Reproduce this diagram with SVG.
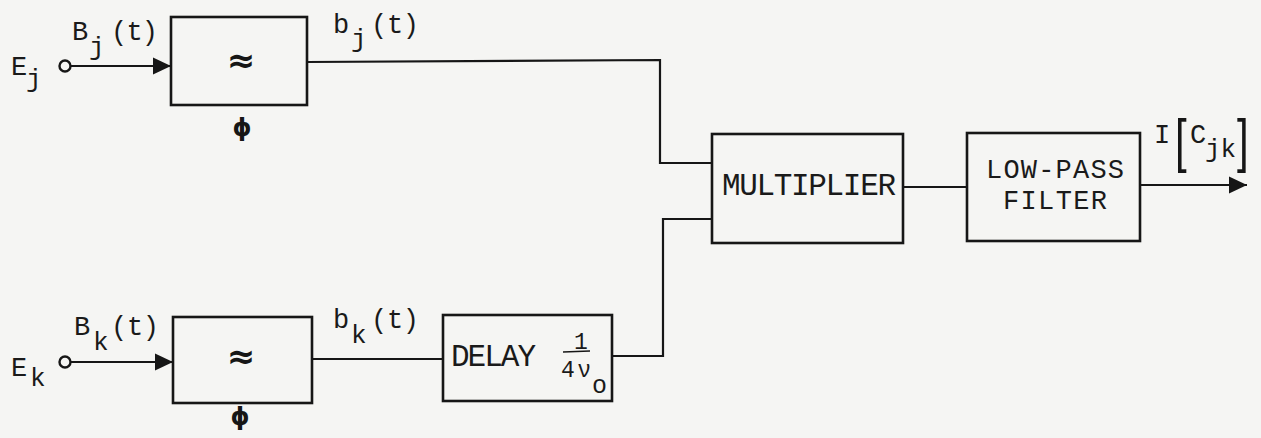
<svg xmlns="http://www.w3.org/2000/svg" width="1261" height="438" viewBox="0 0 1261 438">
<style>
.box{fill:none;stroke:#161616;stroke-width:2.6}
.wire{fill:none;stroke:#161616;stroke-width:2.2}
.t{font-family:"Liberation Mono",monospace;fill:#1a1a1a}
.lab{font-size:27px}
.sub{font-size:26px}
.blk{font-size:31px}
.blk2{font-size:27px}
.sym{font-family:"DejaVu Sans",sans-serif;font-weight:bold;fill:#161616;text-anchor:middle}
.br{font-family:"Liberation Sans",sans-serif;font-size:60px;fill:#161616}
</style>
<defs>
<marker id="arr" markerWidth="20" markerHeight="20" refX="18" refY="10" orient="auto" markerUnits="userSpaceOnUse">
<path d="M0,1.5 L18,10 L0,18.5 Z" fill="#161616"/>
</marker>
</defs>
<rect width="1261" height="438" fill="#f5f5f3"/>

<g id="input-j">
<circle cx="65" cy="66" r="5.5" fill="none" stroke="#161616" stroke-width="2.4"/>
<text class="t lab" x="11" y="75">E</text>
<text class="t sub" x="26" y="87">j</text>
<text class="t lab" x="72" y="40">B</text>
<text class="t sub" x="89" y="55">j</text>
<text class="t lab" x="111" y="40" textLength="47">(t)</text>
</g>

<g id="input-k">
<circle cx="65" cy="362" r="5.5" fill="none" stroke="#161616" stroke-width="2.4"/>
<text class="t lab" x="11" y="376">E</text>
<text class="t sub" x="30" y="386">k</text>
<text class="t lab" x="74" y="335">B</text>
<text class="t sub" x="93" y="350">k</text>
<text class="t lab" x="111" y="335" textLength="48">(t)</text>
</g>

<g id="filter-j">
<rect class="box" x="171" y="17" width="136" height="88"/>
<text class="sym" x="241" y="72" font-size="34">≈</text>
<text class="sym" x="242" y="136" font-size="24">ϕ</text>
</g>

<g id="filter-k">
<rect class="box" x="173" y="317" width="139" height="86"/>
<text class="sym" x="241" y="368" font-size="34">≈</text>
<text class="sym" x="240" y="425" font-size="24">ϕ</text>
</g>

<g id="label-bj">
<text class="t lab" x="333" y="33">b</text>
<text class="t sub" x="351" y="47">j</text>
<text class="t lab" x="371" y="33" textLength="48">(t)</text>
</g>

<g id="label-bk">
<text class="t lab" x="333" y="328">b</text>
<text class="t sub" x="351" y="343">k</text>
<text class="t lab" x="371" y="328" textLength="48">(t)</text>
</g>

<g id="delay">
<rect class="box" x="443" y="315" width="169" height="86"/>
<text class="t blk" x="451" y="366" textLength="85">DELAY</text>
<text class="t" x="581" y="349" font-size="23" text-anchor="middle">1</text>
<line x1="563" y1="352" x2="590" y2="351" stroke="#161616" stroke-width="1.6"/>
<text class="t" x="561" y="377" font-size="23" textLength="30">4ν</text>
<text class="t" x="592" y="393" font-size="25">o</text>
</g>

<g id="multiplier">
<rect class="box" x="712" y="134" width="191" height="109"/>
<text class="t blk" x="722" y="195" textLength="174">MULTIPLIER</text>
</g>

<g id="lowpass">
<rect class="box" x="967" y="133" width="173" height="108"/>
<text class="t blk2" x="986" y="178" textLength="138">LOW-PASS</text>
<text class="t blk2" x="1003" y="209" textLength="104">FILTER</text>
</g>

<g id="output-label">
<text class="t lab" x="1154" y="143">I</text>
<text class="br" transform="translate(1175,161) scale(0.7,1)" x="0" y="0">[</text>
<text class="t lab" x="1190" y="143">C</text>
<text class="t sub" x="1205" y="157" textLength="31">jk</text>
<text class="br" transform="translate(1237,161) scale(0.7,1)" x="0" y="0">]</text>
</g>

<g id="connectors">
<line class="wire" x1="71" y1="66" x2="171" y2="66" marker-end="url(#arr)"/>
<line class="wire" x1="71" y1="362" x2="173" y2="362" marker-end="url(#arr)"/>
<polyline class="wire" points="307,62 660,60 660,163 712,163"/>
<line class="wire" x1="312" y1="359" x2="443" y2="359"/>
<polyline class="wire" points="612,356 663,356 663,219 712,219"/>
<line class="wire" x1="903" y1="187" x2="967" y2="187"/>
<line class="wire" x1="1140" y1="185" x2="1247" y2="185" marker-end="url(#arr)"/>
</g>
</svg>
